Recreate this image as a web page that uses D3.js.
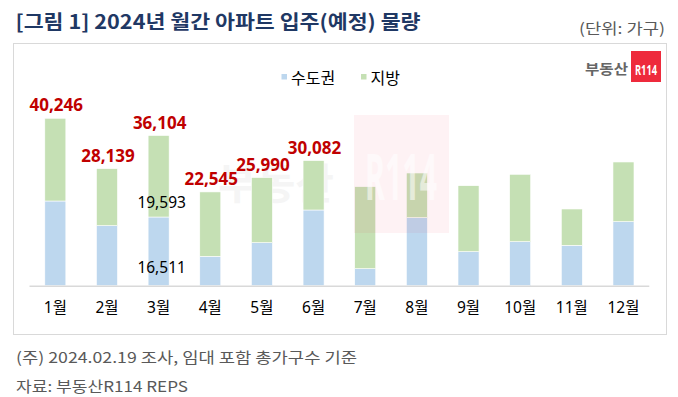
<!DOCTYPE html>
<html>
<head>
<meta charset="utf-8">
<script src="https://cdn.jsdelivr.net/npm/d3@7"></script>
<style>
  html, body { margin: 0; padding: 0; background: #fff; }
  svg { display: block; }
</style>
</head>
<body>
<svg id="chart" width="678" height="397"></svg>
<script>
// ---- data ----
const months = ["1월","2월","3월","4월","5월","6월","7월","8월","9월","10월","11월","12월"];
const capital = [20360, 14430, 16511, 7070, 10340, 18200, 4090, 16350, 8180, 10580, 9710, 15390]; // 수도권
const regional = [19886, 13709, 19593, 15475, 15650, 11882, 19710, 10745, 15860, 16200, 8730, 14350]; // 지방
const totalLabelCount = 6; // totals shown for first six months
const seriesNames = ["수도권", "지방"];
const insideLabelMonth = "3월";

const titleText = "[그림 1] 2024년 월간 아파트 입주(예정) 물량";
const unitText = "(단위: 가구)";
const note1 = "(주) 2024.02.19 조사, 임대 포함 총가구수 기준";
const note2 = "자료: 부동산R114 REPS";

const colors = { capital: "#bdd7ee", regional: "#c5e0b4", total: "#c00000", title: "#1f3864" };
const KR = "'Noto Sans CJK KR', 'Noto Sans', sans-serif";
const NUM = "'Noto Sans', 'Noto Sans CJK KR', sans-serif";

const svg = d3.select("#chart");

// title
svg.append("text").attr("x", 15.5).attr("y", 28.5)
  .attr("font-family", KR).attr("font-weight", 700).attr("font-size", 19.5)
  .attr("fill", colors.title).attr("textLength", 405).attr("lengthAdjust", "spacingAndGlyphs")
  .text(titleText);
svg.append("text").attr("x", 665).attr("y", 34).attr("text-anchor", "end")
  .attr("font-family", KR).attr("font-size", 15).attr("fill", "#595959")
  .attr("textLength", 86).attr("lengthAdjust", "spacingAndGlyphs")
  .text(unitText);

// chart frame
svg.append("rect").attr("x", 13.5).attr("y", 43.5).attr("width", 653).attr("height", 291)
  .attr("fill", "#fff").attr("stroke", "#d9d9d9").attr("stroke-width", 1);

// scales
const x = d3.scaleBand().domain(months).range([29.5, 649.3]).paddingInner(0.593).paddingOuter(0.2965);
const y = d3.scaleLinear().domain([0, 45000]).range([285.7, 98.5]);

const rows = months.map((m, i) => ({ m, cap: capital[i], reg: regional[i], total: capital[i] + regional[i], i }));

// faint background watermark text "부동산"
svg.append("text").attr("x", 218).attr("y", 199)
  .attr("font-family", KR).attr("font-weight", 700).attr("font-size", 42)
  .attr("fill", "#000").attr("opacity", 0.035).text("부동산");

// bars
const g = svg.append("g");
g.selectAll("rect.cap").data(rows).join("rect").attr("class", "cap")
  .attr("x", d => x(d.m)).attr("width", x.bandwidth())
  .attr("y", d => y(d.cap)).attr("height", d => y(0) - y(d.cap))
  .attr("fill", colors.capital).attr("stroke", "#fff").attr("stroke-width", 0.6);
g.selectAll("rect.reg").data(rows).join("rect").attr("class", "reg")
  .attr("x", d => x(d.m)).attr("width", x.bandwidth())
  .attr("y", d => y(d.total)).attr("height", d => y(d.cap) - y(d.total))
  .attr("fill", colors.regional).attr("stroke", "#fff").attr("stroke-width", 0.6);

// baseline axis
const axisG = svg.append("g").attr("transform", `translate(0,${y(0)})`)
  .call(d3.axisBottom(x).tickSize(0).tickPadding(22));
axisG.select(".domain").attr("stroke", "#d9d9d9").attr("stroke-width", 1.5).attr("d", "M29.5,0.5H649.3");
axisG.selectAll(".tick text").attr("font-family", NUM).attr("font-size", 15.5).attr("fill", "#000")
  .attr("dy", "0.35em").attr("dx", 0);

// total labels
svg.selectAll("text.total").data(rows.filter(d => d.i < totalLabelCount)).join("text").attr("class", "total")
  .attr("x", d => x(d.m) + x.bandwidth() / 2 + 1).attr("y", d => y(d.total) - 7)
  .attr("text-anchor", "middle").attr("font-family", NUM).attr("font-weight", 700)
  .attr("font-size", 17).attr("fill", colors.total)
  .text(d => d3.format(",")(d.total));

// inside labels for March
const mr = rows.find(d => d.m === insideLabelMonth);
const fmt = d3.format(",");
svg.append("text").attr("x", x(mr.m) + x.bandwidth() / 2 + 3).attr("y", y(mr.cap) - 9)
  .attr("text-anchor", "middle").attr("font-family", NUM).attr("font-size", 15.5).attr("fill", "#000")
  .text(fmt(mr.reg));
svg.append("text").attr("x", x(mr.m) + x.bandwidth() / 2 + 3).attr("y", y(0) - 12.5)
  .attr("text-anchor", "middle").attr("font-family", NUM).attr("font-size", 15.5).attr("fill", "#000")
  .text(fmt(mr.cap));

// watermark overlay (pink box with R114)
svg.append("rect").attr("x", 354).attr("y", 115).attr("width", 95).attr("height", 118)
  .attr("fill", "#e8283c").attr("opacity", 0.06);
svg.append("text").attr("x", 365).attr("y", 200)
  .attr("font-family", NUM).attr("fill", "#fff").attr("opacity", 0.55)
  .attr("font-weight", 700).attr("font-size", 64)
  .attr("textLength", 72).attr("lengthAdjust", "spacingAndGlyphs")
  .text("R114");

// legend
const legend = svg.append("g");
const legItems = [
  { name: seriesNames[0], color: colors.capital, x: 281.5 },
  { name: seriesNames[1], color: colors.regional, x: 361 }
];
legItems.forEach(it => {
  legend.append("rect").attr("x", it.x).attr("y", 74).attr("width", 5.5).attr("height", 5.5).attr("fill", it.color);
  legend.append("text").attr("x", it.x + 9.5).attr("y", 83.5)
    .attr("font-family", KR).attr("font-size", 16).attr("fill", "#000").text(it.name);
});

// logo
svg.append("text").attr("x", 628).attr("y", 73.5).attr("text-anchor", "end")
  .attr("font-family", KR).attr("font-weight", 700).attr("font-size", 14).attr("fill", "#666")
  .attr("textLength", 43).attr("lengthAdjust", "spacingAndGlyphs").text("부동산");
svg.append("rect").attr("x", 631).attr("y", 51).attr("width", 30).attr("height", 31).attr("fill", "#ee2a3c");
svg.append("text").attr("x", 635).attr("y", 74.5)
  .attr("font-family", NUM).attr("fill", "#fff").attr("font-weight", 700).attr("font-size", 15)
  .attr("textLength", 22).attr("lengthAdjust", "spacingAndGlyphs")
  .text("R114");

// footnotes
svg.append("text").attr("x", 16).attr("y", 363)
  .attr("font-family", KR).attr("font-size", 15).attr("fill", "#595959")
  .attr("textLength", 341).attr("lengthAdjust", "spacingAndGlyphs").text(note1);
svg.append("text").attr("x", 16).attr("y", 391.5)
  .attr("font-family", KR).attr("font-size", 15).attr("fill", "#595959")
  .attr("textLength", 172).attr("lengthAdjust", "spacingAndGlyphs").text(note2);
</script>
</body>
</html>
